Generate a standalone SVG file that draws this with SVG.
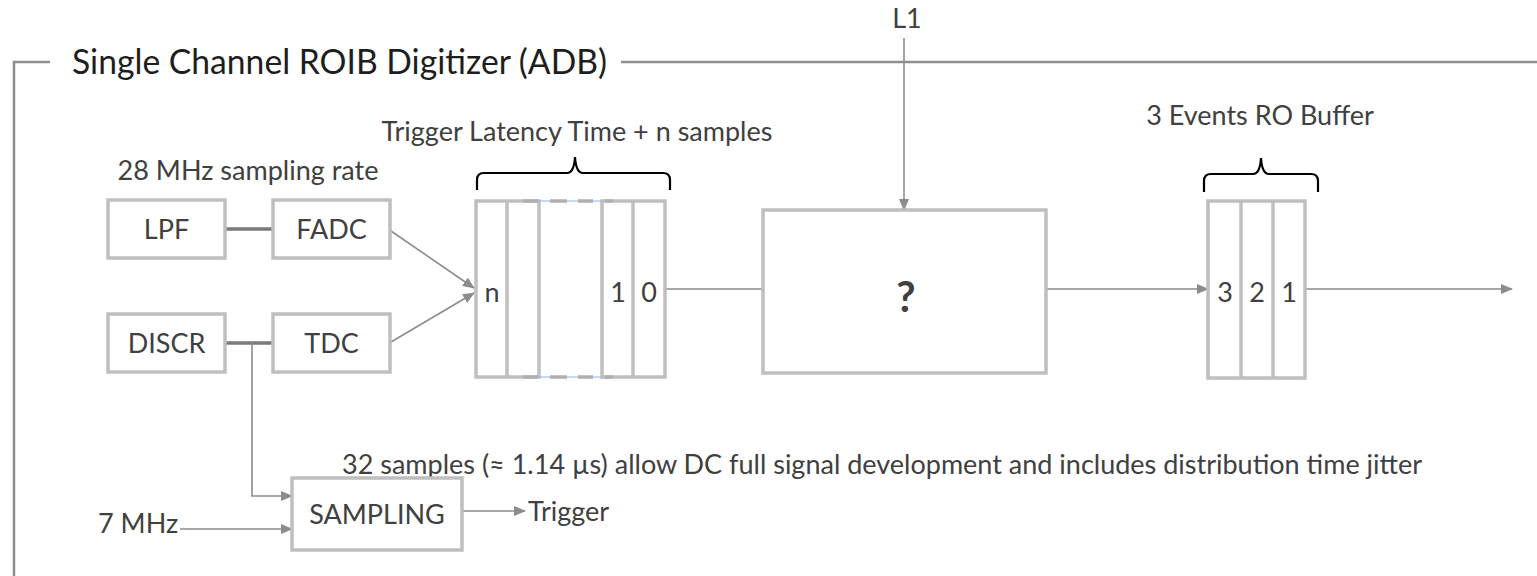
<svg xmlns="http://www.w3.org/2000/svg" width="1537" height="576" viewBox="0 0 1537 576">
<style>
.t{font-family:"Lato","Open Sans","Liberation Sans",sans-serif;font-size:27px;fill:#404040}
.title{font-family:"Lato","Open Sans","Liberation Sans",sans-serif;font-size:34.5px;fill:#1e1e1e}
.box{fill:#fff;stroke:#bfbfbf;stroke-width:3.5}
.cell{fill:none;stroke:#bfbfbf;stroke-width:3.5}
.ln{fill:none;stroke:#8c8c8c;stroke-width:1.6}
.thick{fill:none;stroke:#7a7a7a;stroke-width:3.5}
.frame{fill:none;stroke:#8f8f8f;stroke-width:2.5}
.brace{fill:none;stroke:#000;stroke-width:2.2}
.mid{text-anchor:middle}
</style>
<defs>
<marker id="ah" markerUnits="userSpaceOnUse" markerWidth="12" markerHeight="10" refX="11" refY="5" orient="auto">
<path d="M0,0 L12,5 L0,10 Z" fill="#8c8c8c"/>
</marker>
</defs>

<g id="frame">
<path class="frame" d="M50,62 H14 V576"/>
<path class="frame" d="M621,62 H1537"/>
<text class="title" x="72" y="74" textLength="535" lengthAdjust="spacingAndGlyphs">Single Channel ROIB Digitizer (ADB)</text>
</g>

<g id="labels">
<text class="t mid" x="907" y="28">L1</text>
<text class="t mid" x="577" y="141">Trigger Latency Time + n samples</text>
<text class="t mid" x="248" y="180">28 MHz sampling rate</text>
<text class="t mid" x="1260" y="125">3 Events RO Buffer</text>
<text class="t" x="342" y="474">32 samples (≈ 1.14 µs) allow DC full signal development and includes distribution time jitter</text>
<path class="brace" d="M477,190 V180 Q477,173 484,173 H567 Q574,173 575,157 Q576,173 583,173 H663 Q670,173 670,180 V190"/>
<path class="brace" d="M1204,192 V181 Q1204,174 1211,174 H1253 Q1260,174 1261,158 Q1262,174 1269,174 H1311 Q1318,174 1318,181 V192"/>
</g>

<g id="connectors">
<path class="thick" d="M225,229 H273"/>
<path class="thick" d="M225,343 H273"/>
<path class="ln" d="M391,231 L474,288" marker-end="url(#ah)"/>
<path class="ln" d="M391,342 L474,293" marker-end="url(#ah)"/>
<path class="ln" d="M665,289 H763"/>
<path class="ln" d="M904,38 V210" marker-end="url(#ah)"/>
<path class="ln" d="M1047,289 H1208" marker-end="url(#ah)"/>
<path class="ln" d="M1305,289 H1512" marker-end="url(#ah)"/>
<path class="ln" d="M252,343 V496 H292" marker-end="url(#ah)"/>
<path class="ln" d="M180,529 H292" marker-end="url(#ah)"/>
<path class="ln" d="M462,511 H525" marker-end="url(#ah)"/>
</g>

<g id="lpf">
<rect class="box" x="108" y="200" width="117" height="58"/>
<text class="t mid" x="166.5" y="239">LPF</text>
</g>
<g id="fadc">
<rect class="box" x="273" y="200" width="117" height="58"/>
<text class="t mid" x="331.5" y="239">FADC</text>
</g>
<g id="discr">
<rect class="box" x="108" y="314" width="117" height="58"/>
<text class="t mid" x="166.5" y="353">DISCR</text>
</g>
<g id="tdc">
<rect class="box" x="273" y="314" width="117" height="58"/>
<text class="t mid" x="331.5" y="353">TDC</text>
</g>

<g id="shift-register">
<rect class="cell" x="476" y="201" width="63" height="176"/>
<line class="cell" x1="507" y1="201" x2="507" y2="377"/>
<rect class="cell" x="602" y="201" width="63" height="176"/>
<line class="cell" x1="633" y1="201" x2="633" y2="377"/>
<line x1="539" y1="201" x2="602" y2="201" stroke="#8db4e2" stroke-width="1.2"/>
<line x1="539" y1="377" x2="602" y2="377" stroke="#8db4e2" stroke-width="1.2"/>
<path d="M523,201 H538 M550,201 H567 M578,201 H593 M605,201 H613 M523,377 H538 M550,377 H567 M578,377 H593 M605,377 H613" stroke="#b0b0b0" stroke-width="3.5"/>
<text class="t mid" x="492" y="302">n</text>
<text class="t mid" x="618" y="302">1</text>
<text class="t mid" x="649" y="302">0</text>
</g>

<g id="processor">
<rect class="box" x="763" y="210" width="283" height="163"/>
<text class="mid" x="906" y="312" font-family="Lato,'Open Sans','Liberation Sans',sans-serif" font-size="42" font-weight="bold" fill="#404040">?</text>
</g>

<g id="ro-buffer">
<rect class="cell" x="1208" y="201" width="97" height="177"/>
<line class="cell" x1="1241" y1="201" x2="1241" y2="378"/>
<line class="cell" x1="1273" y1="201" x2="1273" y2="378"/>
<text class="t mid" x="1225" y="302">3</text>
<text class="t mid" x="1257" y="302">2</text>
<text class="t mid" x="1289" y="302">1</text>
</g>

<g id="sampling">
<rect class="box" x="292" y="478" width="170" height="72"/>
<text class="t mid" x="377" y="524">SAMPLING</text>
</g>

<g id="inputs">
<text class="t" x="98" y="533">7 MHz</text>
<text class="t" x="528" y="521">Trigger</text>
</g>
</svg>
